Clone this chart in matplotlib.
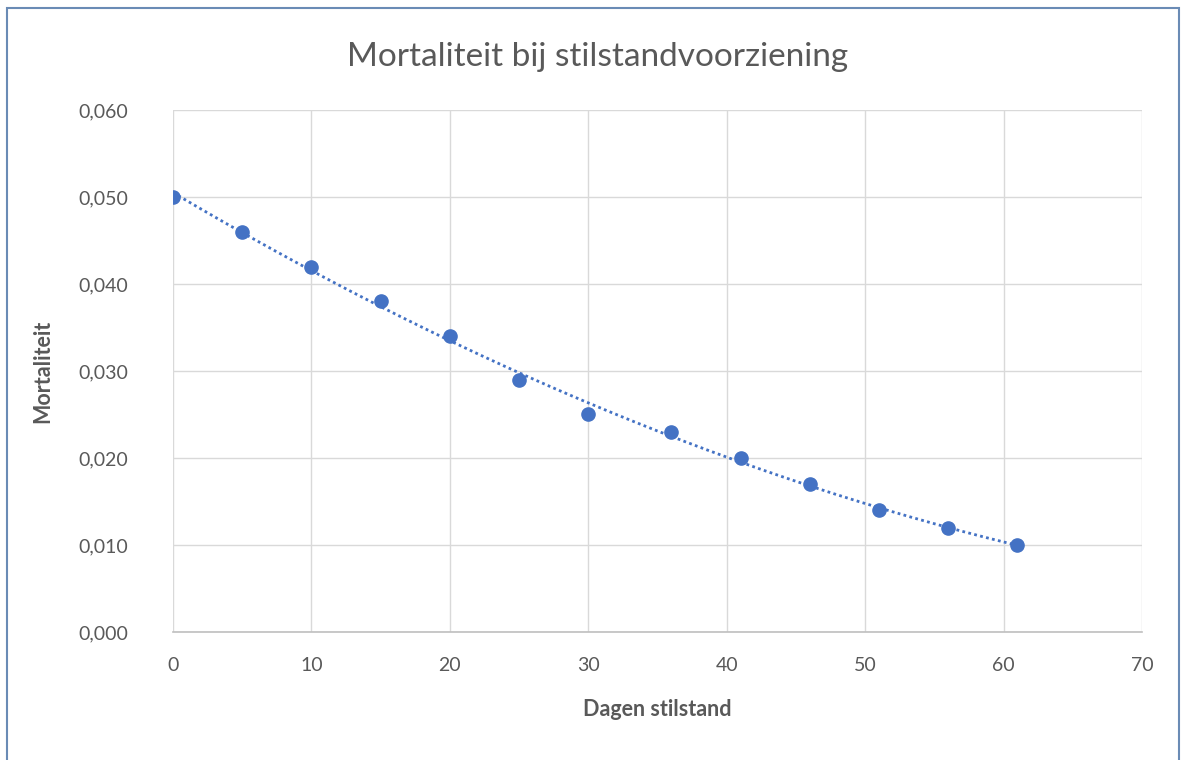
import numpy as np
import matplotlib.pyplot as plt
from matplotlib.patches import Rectangle
from matplotlib.ticker import FuncFormatter, MultipleLocator

# data
dagen = [0, 5, 10, 15, 20, 25, 30, 36, 41, 46, 51, 56, 61]
mortaliteit = [0.050, 0.046, 0.042, 0.038, 0.034, 0.029, 0.025,
               0.023, 0.020, 0.017, 0.014, 0.012, 0.010]

blue = '#4472C4'
grey_txt = '#595959'

plt.rcParams['font.family'] = ['Lato', 'DejaVu Sans']

fig = plt.figure(figsize=(11.86, 7.6), dpi=100)
ax = fig.add_axes([0.1459, 0.1684, 0.8170, 0.6869])

# polynomial trendline (order 2), as in the spreadsheet
coef = np.polyfit(dagen, mortaliteit, 2)
xt = np.linspace(min(dagen), max(dagen), 200)
ax.plot(xt, np.polyval(coef, xt), color=blue, lw=2, ls=(0, (1, 1.2)), zorder=3)
ax.plot(dagen, mortaliteit, 'o', color=blue, ms=9.5, zorder=4)

ax.set_xlim(0, 70)
ax.set_ylim(0, 0.060)
ax.xaxis.set_major_locator(MultipleLocator(10))
ax.yaxis.set_major_locator(MultipleLocator(0.010))
ax.yaxis.set_major_formatter(FuncFormatter(lambda v, p: f'{v:.3f}'.replace('.', ',')))

ax.grid(True, color='#D9D9D9', lw=1)
ax.set_axisbelow(True)
for s in ['top', 'right', 'left']:
    ax.spines[s].set_visible(False)
ax.spines['bottom'].set_color('#BFBFBF')
ax.spines['bottom'].set_linewidth(1.2)
ax.tick_params(axis='both', length=0, labelsize=14, colors=grey_txt)
ax.tick_params(axis='y', pad=32)
ax.tick_params(axis='x', pad=18)

ax.set_xlabel('Dagen stilstand', fontsize=15.5, fontweight='bold', color=grey_txt, labelpad=18)
ax.set_ylabel('Mortaliteit', fontsize=15.5, fontweight='bold', color=grey_txt, labelpad=18)
fig.text(0.504, 0.925, 'Mortaliteit bij stilstandvoorziening', ha='center', va='center',
         fontsize=24, color=grey_txt)

# outer frame
fig.patches.append(Rectangle((0.006, -0.01), 0.988, 1.0, transform=fig.transFigure,
                             fill=False, edgecolor='#6A8BB5', lw=1.5))

fig.savefig('out.png', dpi=100)
